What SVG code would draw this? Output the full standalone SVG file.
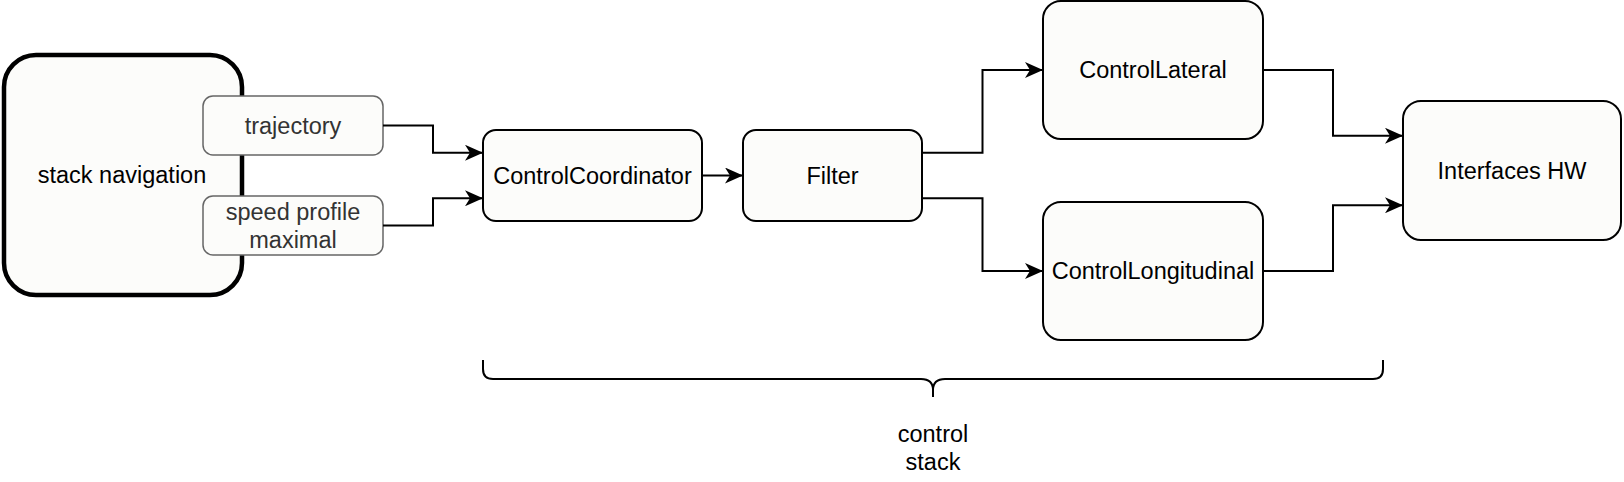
<svg xmlns="http://www.w3.org/2000/svg" width="1624" height="482" viewBox="0 0 1624 482">
<style>
.node{fill:#fcfcfa;stroke:#000;stroke-width:2}
.sub{fill:#fcfcfa;stroke:#666;stroke-width:1.5}
.big{fill:#fcfcfa;stroke:#000;stroke-width:4.5}
text{font-family:"Liberation Sans",Arial,Helvetica,sans-serif;font-size:23.5px;text-anchor:middle;fill:#000}
.gray{fill:#333}
.edge{fill:none;stroke:#000;stroke-width:2}
</style>
<defs>
<marker id="arr" viewBox="0 0 18 16" refX="17" refY="8" markerWidth="18" markerHeight="16" markerUnits="userSpaceOnUse" orient="auto">
<path d="M0,0 L18,8 L0,16 L5,8 Z" fill="#000"/>
</marker>
</defs>
<rect width="1624" height="482" fill="#fff"/>
<g id="stack-navigation">
<rect class="big" x="4" y="55" width="238" height="240" rx="32"/>
<text x="122" y="183">stack navigation</text>
</g>
<g id="trajectory">
<rect class="sub" x="203" y="96" width="180" height="59" rx="10"/>
<text class="gray" x="293" y="133.5">trajectory</text>
</g>
<g id="speed-profile">
<rect class="sub" x="203" y="196" width="180" height="59" rx="10"/>
<text class="gray" x="293" y="219.5">speed profile</text>
<text class="gray" x="293" y="247.5">maximal</text>
</g>
<g id="control-coordinator">
<rect class="node" x="483" y="130" width="219" height="91" rx="13"/>
<text x="592.5" y="183.5">ControlCoordinator</text>
</g>
<g id="filter">
<rect class="node" x="743" y="130" width="179" height="91" rx="13"/>
<text x="832.5" y="183.5">Filter</text>
</g>
<g id="control-lateral">
<rect class="node" x="1043" y="1" width="220" height="138" rx="18"/>
<text x="1153" y="78">ControlLateral</text>
</g>
<g id="control-longitudinal">
<rect class="node" x="1043" y="202" width="220" height="138" rx="18"/>
<text x="1153" y="279">ControlLongitudinal</text>
</g>
<g id="interfaces-hw">
<rect class="node" x="1403" y="101" width="218" height="139" rx="18"/>
<text x="1512" y="178.5">Interfaces HW</text>
</g>
<g id="connectors">
<path class="edge" d="M383,125.5 H433 V152.75 H482" marker-end="url(#arr)"/>
<path class="edge" d="M383,225.5 H433 V198.25 H482" marker-end="url(#arr)"/>
<path class="edge" d="M702,175.5 H742" marker-end="url(#arr)"/>
<path class="edge" d="M922,152.75 H982.5 V70 H1042" marker-end="url(#arr)"/>
<path class="edge" d="M922,198.25 H982.5 V271 H1042" marker-end="url(#arr)"/>
<path class="edge" d="M1263,70 H1333 V135.75 H1402" marker-end="url(#arr)"/>
<path class="edge" d="M1263,271 H1333 V205.25 H1402" marker-end="url(#arr)"/>
</g>
<g id="control-stack-brace">
<path class="edge" d="M483,360 V369 Q483,379 493,379 H921 Q933,379 933,390 V397 M933,390 Q933,379 945,379 H1373 Q1383,379 1383,369 V360"/>
<text x="933" y="442">control</text>
<text x="933" y="470">stack</text>
</g>
</svg>
